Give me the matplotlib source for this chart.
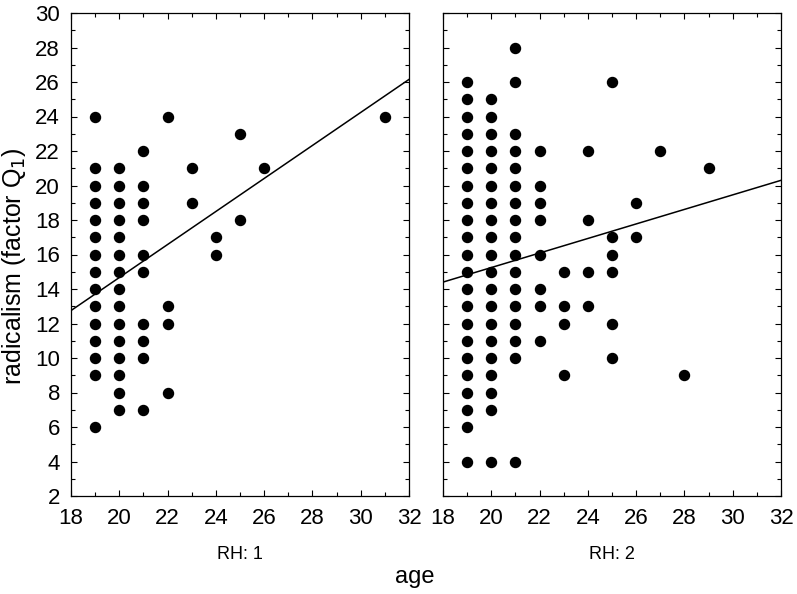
import numpy as np
import matplotlib.pyplot as plt
from matplotlib.ticker import MultipleLocator

plt.rcParams['font.family'] = ['Liberation Sans Narrow', 'Liberation Sans', 'DejaVu Sans']

# RH: 1 -- ages and the radicalism scores seen at each age
ages_1 = [19, 20, 21, 22, 23, 24, 25, 26, 31]
scores_1 = [
    [24, 21, 20, 19, 18, 17, 16, 15, 14, 13, 12, 11, 10, 9, 6],
    [21, 20, 19, 18, 17, 16, 15, 14, 13, 12, 11, 10, 9, 8, 7],
    [22, 20, 19, 18, 16, 15, 12, 11, 10, 7],
    [24, 13, 12, 8],
    [21, 19],
    [17, 16],
    [23, 18],
    [21],
    [24],
]

# RH: 2
ages_2 = [19, 20, 21, 22, 23, 24, 25, 26, 27, 28, 29]
scores_2 = [
    [26, 25, 24, 23, 22, 21, 20, 19, 18, 17, 16, 15, 14, 13, 12, 11, 10, 9, 8, 7, 6, 4],
    [25, 24, 23, 22, 21, 20, 19, 18, 17, 16, 15, 14, 13, 12, 11, 10, 9, 8, 7, 4],
    [28, 26, 23, 22, 21, 20, 19, 18, 17, 16, 15, 14, 13, 12, 11, 10, 4],
    [22, 20, 19, 18, 16, 14, 13, 11],
    [15, 13, 12, 9],
    [22, 18, 15, 13],
    [26, 17, 16, 15, 12, 10],
    [19, 17],
    [22],
    [9],
    [21],
]

# fitted lines (value at age 18 and at age 32)
line_1 = [12.75, 26.15]
line_2 = [14.4, 20.3]
line_x = [18, 32]

panels = [("RH: 1", ages_1, scores_1, line_1), ("RH: 2", ages_2, scores_2, line_2)]

fig = plt.figure(figsize=(7.97, 5.94), dpi=100)
W, H = 797, 594
lefts = [71, 443]
for i, (title, ages, scores, line) in enumerate(panels):
    ax = fig.add_axes([lefts[i] / W, 1 - 496 / H, 338 / W, 483 / H])
    xs = []
    ys = []
    for a, sc in zip(ages, scores):
        xs += [a] * len(sc)
        ys += sc
    ax.scatter(xs, ys, s=52, color='black', zorder=3, clip_on=False)
    ax.plot(line_x, line, color='black', lw=1.1)
    ax.set_xlim(18, 32)
    ax.set_ylim(2, 30)
    ax.xaxis.set_major_locator(MultipleLocator(2))
    ax.xaxis.set_minor_locator(MultipleLocator(1))
    ax.yaxis.set_major_locator(MultipleLocator(2))
    ax.yaxis.set_minor_locator(MultipleLocator(1))
    ax.tick_params(which='both', direction='in', top=True, right=True,
                   labelsize=16)
    ax.tick_params(axis='x', pad=9)
    ax.tick_params(axis='y', pad=8)
    ax.tick_params(which='major', length=4, width=0.8)
    ax.tick_params(which='minor', length=3, width=0.8)
    for s in ax.spines.values():
        s.set_linewidth(0.9)
    if i == 1:
        ax.tick_params(labelleft=False)
    else:
        ax.set_ylabel('radicalism (factor Q$_1$)', fontsize=18,
                      family=['Liberation Sans', 'DejaVu Sans'])
        ax.yaxis.set_label_coords(-0.127, 0.476)
    ax.set_xlabel(title, fontsize=13, labelpad=12)

fig.text(415 / W, 1 - 577 / H, 'age', ha='center', va='center',
         fontsize=17, family=['Liberation Sans', 'DejaVu Sans'])

fig.savefig('out.png', dpi=100)
